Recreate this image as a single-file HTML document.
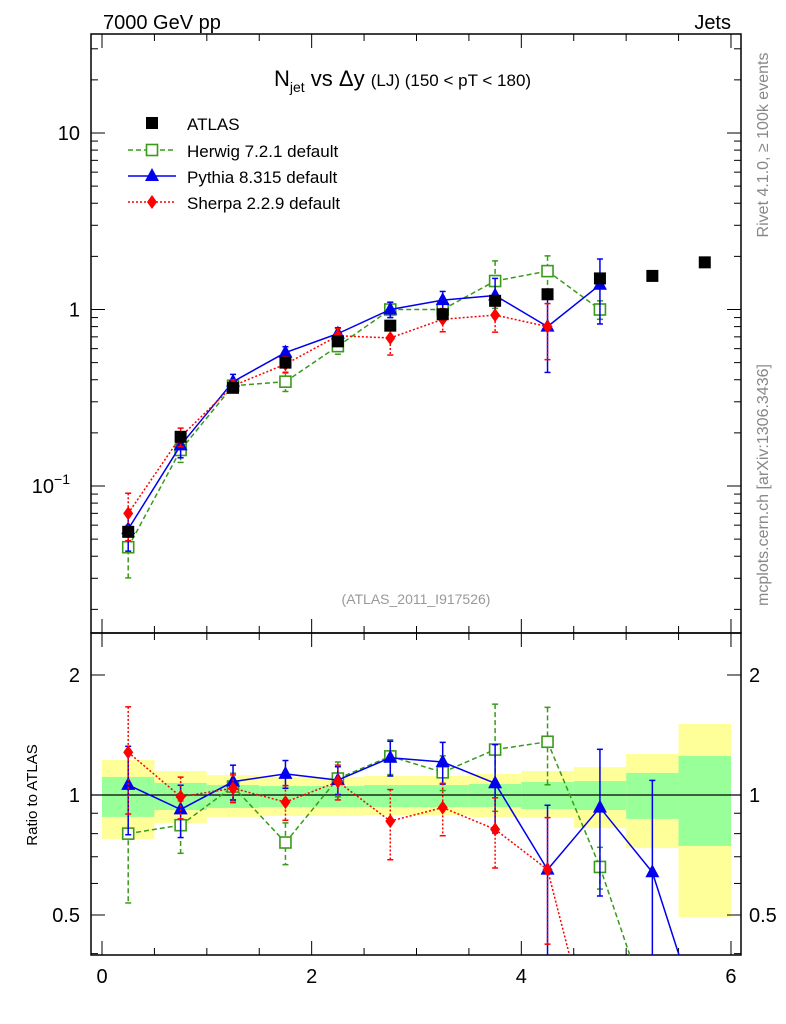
<!DOCTYPE html>
<html><head><meta charset="utf-8"><style>
html,body{margin:0;background:#fff;overflow:hidden;width:786px;height:1024px}
svg{display:block}
text{font-family:"Liberation Sans",sans-serif}
</style></head><body>
<svg id="c" width="786" height="1024" style="position:absolute;left:0;top:0" xmlns="http://www.w3.org/2000/svg"></svg>
<script>
const xCenters=[0.25,0.75,1.25,1.75,2.25,2.75,3.25,3.75,4.25,4.75,5.25,5.75];
const atlasVals=[0.055,0.19,0.36,0.50,0.66,0.81,0.94,1.12,1.22,1.50,1.55,1.85];
const herwigVals=[0.045,0.16,0.37,0.39,0.62,1.0,1.0,1.45,1.65,1.0];
const herwigErr=[0.33,0.15,0.08,0.12,0.1,0.1,0.1,0.3,0.22,0.12];
const pythiaVals=[0.057,0.17,0.39,0.57,0.73,1.0,1.13,1.2,0.8,1.38];
const pythiaErr=[0.25,0.15,0.1,0.08,0.08,0.1,0.12,0.25,0.45,0.4,0.7];
const sherpaVals=[0.07,0.19,0.37,0.49,0.71,0.69,0.88,0.93,0.8];
const sherpaErr=[0.3,0.12,0.08,0.1,0.1,0.2,0.15,0.2,0.35];
const herwigRatio=[0.80,0.84,1.05,0.76,1.10,1.25,1.14,1.30,1.36,0.66,0.27];
const pythiaRatio=[1.06,0.92,1.08,1.13,1.09,1.24,1.21,1.07,0.65,0.93,0.64,0.25];
const sherpaRatio=[1.28,0.99,1.04,0.96,1.08,0.86,0.93,0.82,0.65,0.2];
const bandYelHi=[1.224,1.149,1.122,1.11,1.11,1.116,1.116,1.129,1.149,1.175,1.267,1.507];
const bandYelLo=[0.776,0.851,0.881,0.886,0.886,0.891,0.891,0.881,0.876,0.826,0.736,0.494];
const bandGrnHi=[1.11,1.072,1.059,1.053,1.053,1.059,1.059,1.066,1.078,1.084,1.136,1.253];
const bandGrnLo=[0.881,0.917,0.928,0.933,0.933,0.933,0.933,0.933,0.922,0.917,0.871,0.745];

const svg=document.getElementById('c');const NS='http://www.w3.org/2000/svg';
function el(t,a,p){const e=document.createElementNS(NS,t);for(const k in a)e.setAttribute(k,a[k]);(p||svg).appendChild(e);return e;}
const L=91,R=741,T=34,M=633,B=955;
const X=v=>102+v*104.83;
const Y=v=>133-(Math.log10(v)-1)*176.5;
const YR=v=>795-Math.log2(v)*120;
const cl=(y,lo,hi)=>Math.min(hi,Math.max(lo,y));
const gb=el('g',{});

xCenters.forEach((x,i)=>{
 const y1=cl(YR(bandYelHi[i]),M,B),y2=cl(YR(bandYelLo[i]),M,B);
 const r1=el('rect',{x:X(x-0.25),y:y1,width:X(0.5)-X(0),height:y2-y1,fill:'#ffff99'},gb);
 
 const g1=cl(YR(bandGrnHi[i]),M,B),g2=cl(YR(bandGrnLo[i]),M,B);
 const r2=el('rect',{x:X(x-0.25),y:g1,width:X(0.5)-X(0),height:g2-g1,fill:'#99ff99'},gb);
 
});
el('line',{x1:L,x2:R,y1:YR(1),y2:YR(1),stroke:'#000','stroke-width':1.3});
const f1=el('rect',{x:L,y:T,width:R-L,height:M-T,fill:'none',stroke:'#000','stroke-width':1.5});

const f2=el('rect',{x:L,y:M,width:R-L,height:B-M,fill:'none',stroke:'#000','stroke-width':1.5});

for(let v=0;v<=6.01;v+=0.5){const maj=Math.abs(v-Math.round(v/2)*2)<0.01;const len=maj?14:7;
 [[T,1],[M,-1],[M,1],[B,-1]].forEach(([y,d])=>el('line',{x1:X(v),x2:X(v),y1:y,y2:y+d*len,stroke:'#000','stroke-width':1}));
 if(maj){const t=el('text',{x:X(v),y:983,'font-size':20,'text-anchor':'middle'});t.textContent=String(v);}}
for(let e=-2;e<=1;e++)for(let m=1;m<=9;m++){const v=m*Math.pow(10,e);const y=Y(v);if(y<T||y>M)continue;const len=m==1?14:7;
 el('line',{x1:L,x2:L+len,y1:y,y2:y,stroke:'#000'});el('line',{x1:R,x2:R-len,y1:y,y2:y,stroke:'#000'});}
[[0.1,'10'],[1,'1'],[10,'10']].forEach(([v,s],i)=>{const t=el('text',{x:80,y:Y(v)+7,'font-size':20,'text-anchor':'end'});t.textContent=s;
 if(i==0){t.setAttribute('x',70);const sp=el('tspan',{dy:-9,'font-size':14},t);sp.textContent='−1';}
 });
[0.4,0.5,0.6,0.7,0.8,0.9,1,2].forEach(v=>{const y=YR(v);if(y<M||y>B)return;const len=(v==0.5||v==1||v==2)?14:7;
 el('line',{x1:L,x2:L+len,y1:y,y2:y,stroke:'#000'});el('line',{x1:R,x2:R-len,y1:y,y2:y,stroke:'#000'});});
[[0.5,'0.5'],[1,'1'],[2,'2']].forEach(([v,s])=>{const a=el('text',{x:80,y:YR(v)+7,'font-size':20,'text-anchor':'end'});a.textContent=s;
 
 const b=el('text',{x:749,y:YR(v)+7,'font-size':20});b.textContent=s;
 });
function marker(g,type,x,y,col){
 if(type=='sq')el('rect',{x:x-6,y:y-6,width:12,height:12,fill:col},g);
 else if(type=='osq')el('rect',{x:x-5.5,y:y-5.5,width:11,height:11,fill:'#fff',stroke:col,'stroke-width':1.6},g);
 else if(type=='tri')el('path',{d:`M${x},${y-8}L${x+7},${y+5}L${x-7},${y+5}Z`,fill:col},g);
 else el('path',{d:`M${x},${y-7}L${x+5},${y}L${x},${y+7}L${x-5},${y}Z`,fill:col},g);}
function series(name,vals,errs,col,dash,type,Yf,top,bot){
 const g=el('g',{});
 
 const P=vals.map((v,i)=>[X(xCenters[i]),Yf(v)]);
 for(let i=0;i<P.length-1;i++){let [x1,y1]=P[i],[x2,y2]=P[i+1];
  if(y1>bot&&y2>bot)continue;
  if(y1>bot){x1=x1+(x2-x1)*(bot-y1)/(y2-y1);y1=bot;}
  if(y2>bot){x2=x1+(x2-x1)*(bot-y1)/(y2-y1);y2=bot;}
  el('line',{x1,y1,x2,y2,stroke:col,'stroke-width':1.5,'stroke-dasharray':dash},g);}
 vals.forEach((v,i)=>{const x=P[i][0];const yv=P[i][1];if(yv>bot||yv<top)return;const e=errs&&errs[i]?errs[i]*v:0;
  if(e>0){const lo=Math.max(v-e,1e-3);const ya=cl(Yf(v+e),top,bot),yb=cl(Yf(lo),top,bot);
   el('line',{x1:x,x2:x,y1:ya,y2:yb,stroke:col,'stroke-width':1.5,'stroke-dasharray':dash},g);
   if(ya>top)el('line',{x1:x-3,x2:x+3,y1:ya,y2:ya,stroke:col,'stroke-width':1.5},g);
   if(yb<bot)el('line',{x1:x-3,x2:x+3,y1:yb,y2:yb,stroke:col,'stroke-width':1.5},g);}
  marker(g,type,x,yv,col);});}
series('herwig-series',herwigVals,herwigErr,'#3a9a1a','5,3','osq',Y,T,M);
series('pythia-series',pythiaVals,pythiaErr.slice(0,10),'#0000ee','','tri',Y,T,M);
series('sherpa-series',sherpaVals,sherpaErr,'#ff0000','2,2','dia',Y,T,M);
const ga=el('g',{});
atlasVals.forEach((v,i)=>marker(ga,'sq',X(xCenters[i]),Y(v),'#000'));
series('herwig-ratio',herwigRatio,herwigErr,'#3a9a1a','5,3','osq',YR,M,B);
series('pythia-ratio',pythiaRatio,pythiaErr,'#0000ee','','tri',YR,M,B);
series('sherpa-ratio',sherpaRatio,sherpaErr,'#ff0000','2,2','dia',YR,M,B);
const lg=el('g',{});
[['ATLAS','#000','','sq',123],['Herwig 7.2.1 default','#3a9a1a','5,3','osq',150],['Pythia 8.315 default','#0000ee','','tri',176],['Sherpa 2.2.9 default','#ff0000','2,2','dia',202]].forEach(([s,c,d,t,y],i)=>{
 if(i>0)el('line',{x1:128,x2:176,y1:y,y2:y,stroke:c,'stroke-width':1.5,'stroke-dasharray':d},lg);
 marker(lg,t,152,y,c);const tx=el('text',{x:187,y:y+7,'font-size':17},lg);tx.textContent=s;
 });
</script>
<svg width="786" height="1024" style="position:absolute;left:0;top:0" xmlns="http://www.w3.org/2000/svg">
<text x="103" y="29" font-size="20" style="font-family:'Liberation Sans',sans-serif">7000 GeV pp</text>
<text x="731" y="29" font-size="20" text-anchor="end" style="font-family:'Liberation Sans',sans-serif">Jets</text>
<text x="274" y="86" font-size="22" style="font-family:'Liberation Sans',sans-serif">N<tspan font-size="14" dy="6">jet</tspan><tspan dy="-6"> vs Δy </tspan><tspan font-size="17">(LJ) (150 &lt; pT &lt; 180)</tspan></text>
<text x="416" y="604" font-size="14" fill="#999" text-anchor="middle" style="font-family:'Liberation Sans',sans-serif">(ATLAS_2011_I917526)</text>
<text transform="translate(768,145) rotate(-90)" font-size="16" fill="#888" text-anchor="middle" style="font-family:'Liberation Sans',sans-serif">Rivet 4.1.0, ≥ 100k events</text>
<text transform="translate(768,485) rotate(-90)" font-size="16" fill="#888" text-anchor="middle" style="font-family:'Liberation Sans',sans-serif">mcplots.cern.ch [arXiv:1306.3436]</text>
<text transform="translate(37,795) rotate(-90)" font-size="15" text-anchor="middle" style="font-family:'Liberation Sans',sans-serif">Ratio to ATLAS</text>
</svg>
</body></html>
